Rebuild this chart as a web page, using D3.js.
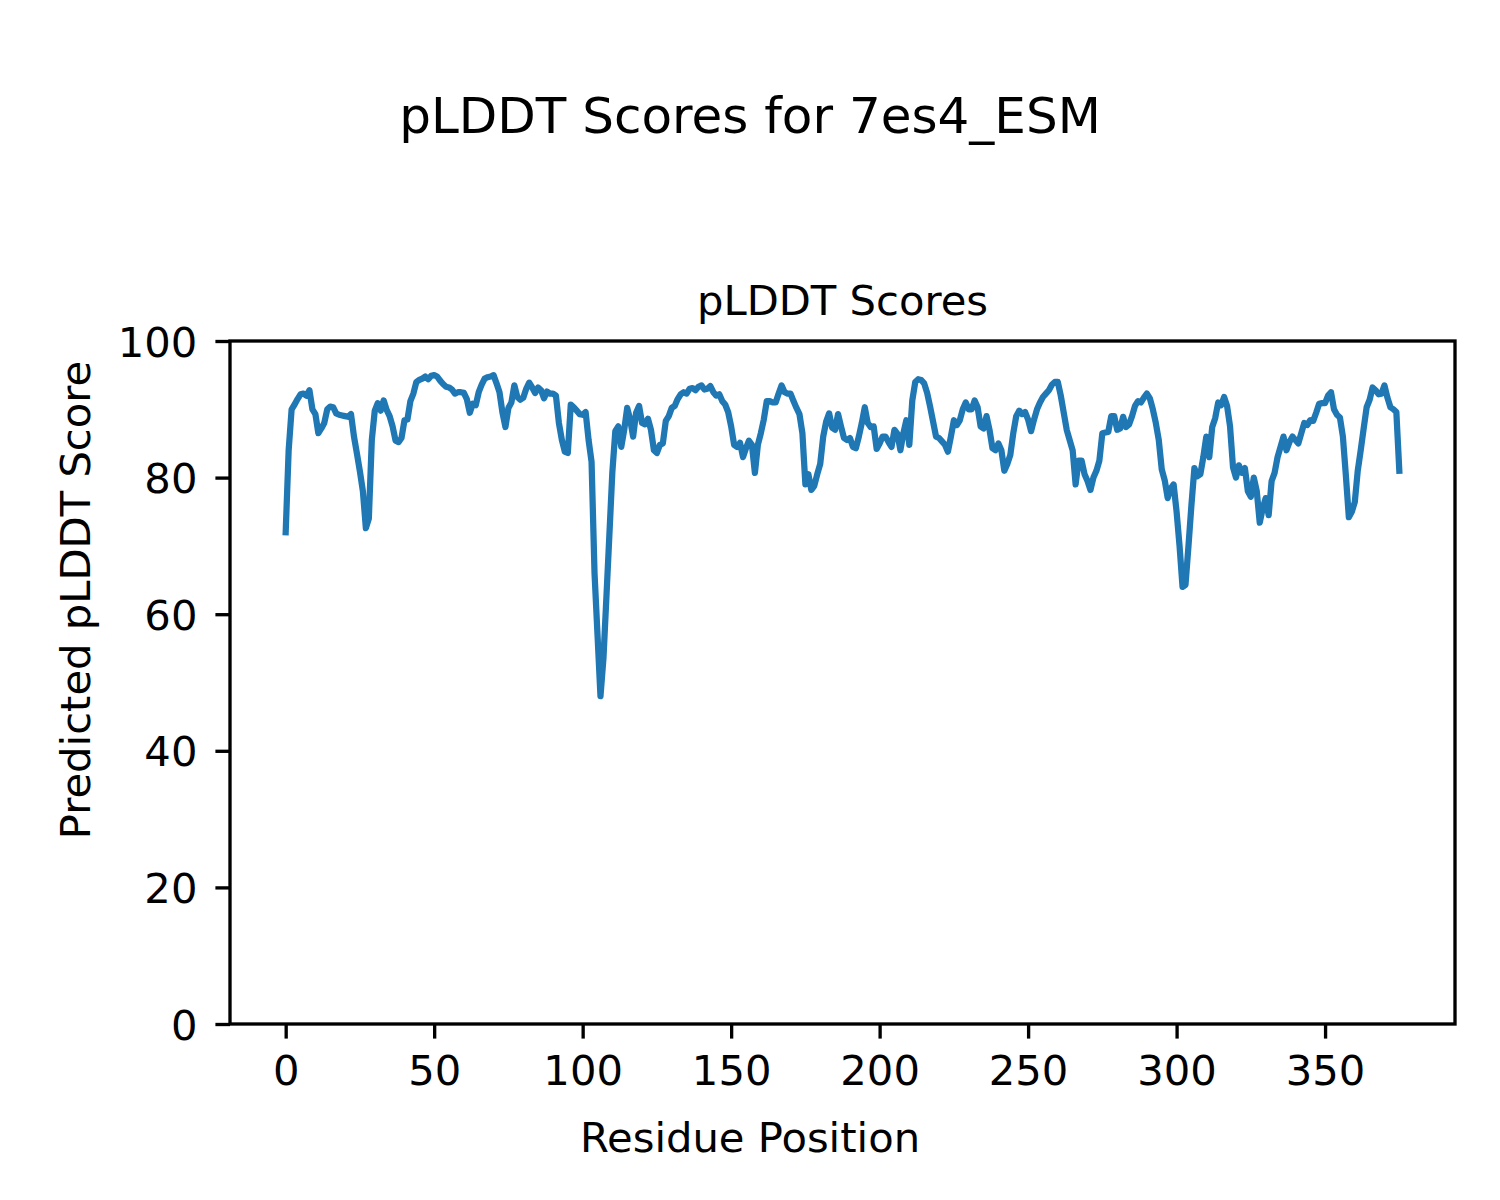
<!DOCTYPE html>
<html>
<head>
<meta charset="utf-8">
<script src="https://cdn.jsdelivr.net/npm/d3@7"></script>
<style>
  html, body { margin: 0; padding: 0; background: #ffffff; }
  svg text { font-family: "DejaVu Sans", sans-serif; fill: #000; }
</style>
</head>
<body>
<svg id="chart" width="1500" height="1200"></svg>
<script>
// ---- data ----
const figureTitle = "pLDDT Scores for 7es4_ESM";
const axesTitle = "pLDDT Scores";
const xLabel = "Residue Position";
const yLabel = "Predicted pLDDT Score";
const xTicks = [0, 50, 100, 150, 200, 250, 300, 350];
const yTicks = [0, 20, 40, 60, 80, 100];
const plddt = [
  72, 84, 90, 90.7, 91.5, 92.2, 92.3, 92, 92.8, 90,
  89.3, 86.5, 87.2, 88, 90, 90.4, 90.3, 89.4, 89.2, 89.1,
  89.0, 88.9, 89.3, 86, 83.5, 80.9, 78, 72.6, 74, 85.5,
  89.8, 90.9, 89.8, 91.3, 89.9, 89, 87.5, 85.4, 85.2, 85.8,
  88.4, 88.5, 91.2, 92.3, 94, 94.3, 94.5, 94.8, 94.4, 94.9,
  95, 94.8, 94.2, 93.7, 93.3, 93.2, 92.9, 92.3, 92.5, 92.5,
  92.4, 91.5, 89.5, 90.8, 90.6, 92.5, 93.6, 94.5, 94.7, 94.8,
  95, 93.8, 92.5, 89.5, 87.4, 90.2, 91, 93.5, 91.8, 91.4,
  91.7, 93, 93.9, 93.2, 92.4, 93.2, 92.8, 91.6, 92.6, 92.3,
  92.3, 92, 88, 85.5, 83.8, 83.6, 90.7, 90.3, 89.8, 89.3,
  89.2, 89.6, 85.5, 82.3, 66, 57, 48, 53.5, 62.5, 71.6,
  80.8, 86.8, 87.5, 84.5, 87, 90.2, 88.5, 86, 89.5, 90.5,
  88, 87.8, 88.6, 87, 84, 83.6, 84.8, 85, 88.3, 89,
  90.2, 90.5, 91.5, 92.2, 92.5, 92.3, 93, 93.1, 92.8, 93.3,
  93.5, 92.9, 93, 93.4, 92.5, 92, 92.2, 91.2, 90.7, 89.6,
  87.5, 84.8, 84.5, 85.1, 83, 84.3, 85.4, 84.8, 80.7, 84.8,
  86.5, 88.5, 91.2, 91.2, 91, 91, 92.3, 93.5, 92.5, 92.3,
  92.3, 91.2, 90.2, 89.3, 86.5, 79, 80.5, 78.2, 78.8, 80.5,
  82, 86, 88.2, 89.4, 87.3, 87, 89.3, 87.5, 85.8, 85.5,
  85.8, 84.5, 84.3, 86, 88, 90.3, 88, 87.4, 87.5, 84.2,
  85, 86, 86, 85.2, 84.5, 87, 86.4, 84, 86.5, 88.4,
  84.8, 91.3, 94, 94.4, 94.3, 93.8, 92.4, 90.4, 88.2, 86,
  85.8, 85.3, 84.8, 83.8, 86, 88.4, 87.7, 88.4, 90, 91,
  90, 90, 91.3, 90.3, 87.5, 87.2, 89, 87, 84.3, 84,
  85, 84, 81, 82, 83.3, 86.5, 89, 89.8, 89.3, 89.6,
  88.5, 86.8, 88.5, 90, 91, 91.8, 92.3, 92.8, 93.6, 94,
  94, 92, 89.5, 87, 85.5, 84, 79, 82.5, 82.5, 80.5,
  79.5, 78.2, 80, 81, 82.5, 86.5, 86.6, 86.7, 89, 89,
  87, 87.2, 88.9, 87.4, 87.8, 89, 90.5, 91.2, 91, 91.7,
  92.3, 91.6, 90, 88, 85.5, 81.2, 79.6, 77, 78.4, 79,
  75, 70, 64, 64.3, 70, 76, 81.4, 80.2, 80.5, 83,
  86, 83, 87.4, 88.7, 91, 90.6, 91.8, 90.5, 87.5, 81.5,
  80, 81.8, 80.7, 81.4, 78, 77.2, 80, 78, 73.4, 75.5,
  77, 74.5, 79.5, 80.7, 83, 84.5, 86, 84, 85.2, 86,
  85.5, 85, 86.5, 88, 87.7, 88.4, 88.3, 89.5, 90.8, 90.9,
  90.9, 92, 92.5, 90, 89.2, 88.8, 86, 80.3, 74.2, 75,
  76.4, 81, 84, 87.2, 90.3, 91.4, 93.2, 92.8, 92.2, 92.3,
  93.5, 91.7, 90.3, 90, 89.6, 81
];

// ---- layout ----
const svg = d3.select("#chart");
const plot = { left: 230, right: 1455, top: 341, bottom: 1024 };
const n = plddt.length;
const margin = (n - 1) * 0.05;

const x = d3.scaleLinear().domain([-margin, (n - 1) + margin]).range([plot.left, plot.right]);
const y = d3.scaleLinear().domain([0, 100]).range([plot.bottom, plot.top]);

const tickFont = 41.7;
const lw = 3.33;

// line
const line = d3.line().x((d, i) => x(i)).y(d => y(d));
svg.append("path")
  .datum(plddt)
  .attr("d", line)
  .attr("fill", "none")
  .attr("stroke", "#1f77b4")
  .attr("stroke-width", 6.25)
  .attr("stroke-linejoin", "round")
  .attr("stroke-linecap", "square");

// spines
svg.append("rect")
  .attr("x", plot.left).attr("y", plot.top)
  .attr("width", plot.right - plot.left).attr("height", plot.bottom - plot.top)
  .attr("fill", "none").attr("stroke", "#000").attr("stroke-width", lw);

// x axis
const xAxis = d3.axisBottom(x).tickValues(xTicks).tickSize(14.6).tickPadding(14.6).tickFormat(d3.format("d"));
const gx = svg.append("g").attr("transform", `translate(0,${plot.bottom})`).call(xAxis);
gx.select(".domain").remove();
gx.selectAll(".tick line").attr("stroke", "#000").attr("stroke-width", lw);
gx.selectAll(".tick text")
  .attr("font-family", "DejaVu Sans").attr("font-size", tickFont)
  .attr("dy", null).attr("y", 61).attr("fill", "#000");

// y axis
const yAxis = d3.axisLeft(y).tickValues(yTicks).tickSize(14.6).tickPadding(18).tickFormat(d3.format("d"));
const gy = svg.append("g").attr("transform", `translate(${plot.left},0)`).call(yAxis);
gy.select(".domain").remove();
gy.selectAll(".tick line").attr("stroke", "#000").attr("stroke-width", lw);
gy.selectAll(".tick text")
  .attr("font-family", "DejaVu Sans").attr("font-size", tickFont)
  .attr("dy", "15").attr("fill", "#000");

// titles
svg.append("text").attr("x", 750).attr("y", 133)
  .attr("text-anchor", "middle").attr("font-size", 50).text(figureTitle);
svg.append("text").attr("x", (plot.left + plot.right) / 2).attr("y", 315)
  .attr("text-anchor", "middle").attr("font-size", tickFont).text(axesTitle);
svg.append("text").attr("x", 750).attr("y", 1152)
  .attr("text-anchor", "middle").attr("font-size", tickFont).text(xLabel);
svg.append("text").attr("transform", "translate(90,600) rotate(-90)")
  .attr("text-anchor", "middle").attr("font-size", tickFont).text(yLabel);
</script>
</body>
</html>
